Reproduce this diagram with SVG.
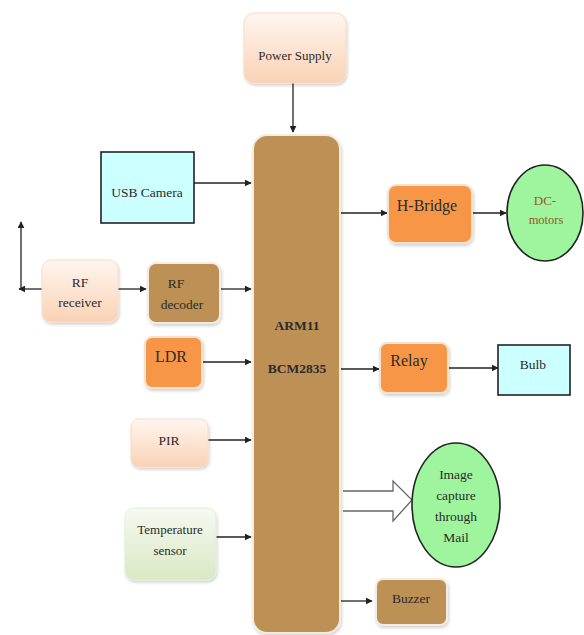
<svg xmlns="http://www.w3.org/2000/svg" width="584" height="635" viewBox="0 0 584 635" font-family="'Liberation Serif', 'DejaVu Serif', serif">
<defs>
<style>
text{font-family:'Liberation Serif','DejaVu Serif',serif;fill:#2b2b2b;text-anchor:middle}
.c{stroke:#222;stroke-width:1.3;fill:none}
.orange{fill:#F79646;stroke:#f2e2d0;stroke-width:2}
.brown{fill:#BD9155;stroke:#f4ece0;stroke-width:2}
.cyan{fill:#CCFFFF;stroke:#222;stroke-width:1.6}
.green{fill:#9EF59E;stroke:#222;stroke-width:1.6}
</style>
<linearGradient id="peach" x1="0" y1="0" x2="0" y2="1">
<stop offset="0" stop-color="#FFF6EF"/>
<stop offset="1" stop-color="#FAD2B5"/>
</linearGradient>
<linearGradient id="lgreen" x1="0" y1="0" x2="0" y2="1">
<stop offset="0" stop-color="#F6FAF0"/>
<stop offset="1" stop-color="#D9E8C4"/>
</linearGradient>
<filter id="sh" x="-20%" y="-20%" width="140%" height="140%">
<feDropShadow dx="1" dy="2" stdDeviation="1.5" flood-color="#000" flood-opacity="0.18"/>
</filter>
<marker id="ah" viewBox="0 0 10 10" refX="9" refY="5" markerWidth="7" markerHeight="7" markerUnits="userSpaceOnUse" orient="auto">
<path d="M0,0 L10,5 L0,10 z" fill="#222"/>
</marker>
</defs>

<g id="connectors">
<line class="c" x1="293" y1="83" x2="293" y2="132" marker-end="url(#ah)"/>
<line class="c" x1="194" y1="183" x2="251" y2="183" marker-end="url(#ah)"/>
<line class="c" x1="118" y1="289" x2="146" y2="289" marker-end="url(#ah)"/>
<line class="c" x1="42" y1="289" x2="19" y2="289" marker-end="url(#ah)"/>
<line class="c" x1="21" y1="289" x2="21" y2="222" marker-end="url(#ah)"/>
<line class="c" x1="220" y1="289" x2="251" y2="289" marker-end="url(#ah)"/>
<line class="c" x1="202" y1="362" x2="251" y2="362" marker-end="url(#ah)"/>
<line class="c" x1="208" y1="440" x2="251" y2="440" marker-end="url(#ah)"/>
<line class="c" x1="216" y1="537" x2="251" y2="537" marker-end="url(#ah)"/>
<line class="c" x1="341" y1="213" x2="387" y2="213" marker-end="url(#ah)"/>
<line class="c" x1="472" y1="213" x2="506" y2="213" marker-end="url(#ah)"/>
<line class="c" x1="341" y1="369" x2="379" y2="369" marker-end="url(#ah)"/>
<line class="c" x1="448" y1="368" x2="498" y2="368" marker-end="url(#ah)"/>
<line class="c" x1="341" y1="601" x2="372" y2="601" marker-end="url(#ah)"/>
<path d="M343,491 L393,491 L393,481 L412,500 L393,521 L393,511 L343,511" fill="#fff" stroke="#666" stroke-width="1.3"/>
</g>

<g id="arm">
<rect x="253" y="135" width="87" height="498" rx="14" class="brown" filter="url(#sh)"/>
<text x="297" y="330" font-size="13.5" font-weight="bold">ARM11</text>
<text x="297" y="373" font-size="13.5" font-weight="bold">BCM2835</text>
</g>

<g id="power-supply">
<rect x="244" y="13" width="102" height="70" rx="10" fill="url(#peach)" stroke="#f6dcc8" stroke-width="1" filter="url(#sh)"/>
<text x="295" y="60" font-size="13">Power Supply</text>
</g>

<g id="usb-camera">
<rect x="101" y="152" width="93" height="71" class="cyan"/>
<text x="147" y="197" font-size="13.5">USB Camera</text>
</g>

<g id="rf-receiver">
<rect x="42" y="260" width="76" height="62" rx="9" fill="url(#peach)" stroke="#f6dcc8" stroke-width="1" filter="url(#sh)"/>
<text x="80" y="287" font-size="13.5">RF</text>
<text x="80" y="307" font-size="13.5">receiver</text>
</g>

<g id="rf-decoder">
<rect x="148" y="263" width="72" height="60" rx="8" class="brown" filter="url(#sh)"/>
<text x="176" y="288" font-size="13.5">RF</text>
<text x="182" y="309" font-size="13.5">decoder</text>
</g>

<g id="ldr">
<rect x="145" y="337" width="57" height="51" rx="7" class="orange" filter="url(#sh)"/>
<text x="171" y="362" font-size="16">LDR</text>
</g>

<g id="pir">
<rect x="131" y="419" width="77" height="48" rx="8" fill="url(#peach)" stroke="#f6dcc8" stroke-width="1" filter="url(#sh)"/>
<text x="169" y="445" font-size="13.5">PIR</text>
</g>

<g id="temperature-sensor">
<rect x="125" y="508" width="91" height="72" rx="9" fill="url(#lgreen)" stroke="#e4eedb" stroke-width="1" filter="url(#sh)"/>
<text x="170" y="534" font-size="13">Temperature</text>
<text x="170" y="555" font-size="13">sensor</text>
</g>

<g id="h-bridge">
<rect x="388" y="185" width="84" height="58" rx="8" class="orange" filter="url(#sh)"/>
<text x="427" y="211" font-size="16">H-Bridge</text>
</g>

<g id="dc-motors">
<ellipse cx="545" cy="213" rx="38" ry="48" class="green"/>
<text x="545" y="205" font-size="13" style="fill:#A0522D">DC-</text>
<text x="546" y="224" font-size="12.5" style="fill:#A0522D">motors</text>
</g>

<g id="relay">
<rect x="380" y="343" width="68" height="50" rx="7" class="orange" filter="url(#sh)"/>
<text x="409" y="366" font-size="16">Relay</text>
</g>

<g id="bulb">
<rect x="498" y="345" width="72" height="50" class="cyan"/>
<text x="533" y="369" font-size="13.5">Bulb</text>
</g>

<g id="image-capture">
<ellipse cx="456" cy="505" rx="44" ry="62" class="green"/>
<text x="456" y="479" font-size="13.5">Image</text>
<text x="456" y="500" font-size="13.5">capture</text>
<text x="456" y="521" font-size="13.5">through</text>
<text x="456" y="542" font-size="13.5">Mail</text>
</g>

<g id="buzzer">
<rect x="376" y="579" width="71" height="46" rx="7" class="brown" filter="url(#sh)"/>
<text x="411" y="603" font-size="13.5">Buzzer</text>
</g>
</svg>
